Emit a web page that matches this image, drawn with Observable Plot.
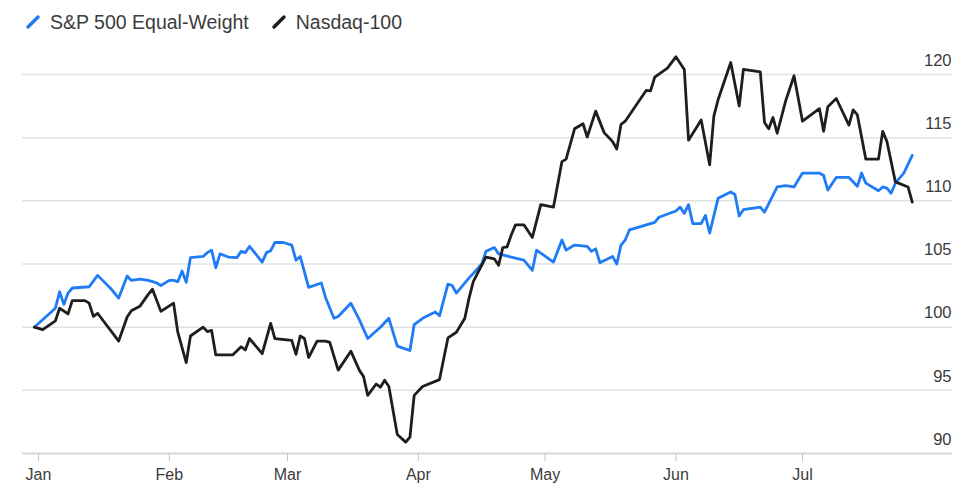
<!DOCTYPE html>
<html>
<head>
<meta charset="utf-8">
<script src="https://cdn.jsdelivr.net/npm/d3@7"></script>
<script src="https://cdn.jsdelivr.net/npm/@observablehq/plot@0.6"></script>
<style>
  body { margin: 0; background: #fff; font-family: "Liberation Sans", Arial, sans-serif; }
  #legend { height: 44px; display: flex; align-items: center; padding-left: 25px; font-size: 19.5px; color: #3c3c3c; }
  #legend .item { display: flex; align-items: center; margin-right: 22px; }
  #legend svg { margin-right: 9px; }
</style>
</head>
<body>
<div id="legend"></div>
<div id="chart"></div>
<script>
// Both indexes rebased to 100 at the end of the previous year.
const SERIES = ["S&P 500 Equal-Weight", "Nasdaq-100"];
const COLORS = ["#1f7cf6", "#1e1e1e"];

const equalWeightDates = [
  "2022-12-31", "2023-01-05", "2023-01-06", "2023-01-07", "2023-01-08", "2023-01-09", "2023-01-13", "2023-01-15",
  "2023-01-18", "2023-01-20", "2023-01-22", "2023-01-23", "2023-01-25", "2023-01-27", "2023-01-29", "2023-01-30",
  "2023-02-01", "2023-02-02", "2023-02-03", "2023-02-04", "2023-02-05", "2023-02-06", "2023-02-09", "2023-02-10",
  "2023-02-11", "2023-02-12", "2023-02-13", "2023-02-15", "2023-02-17", "2023-02-18", "2023-02-19", "2023-02-20",
  "2023-02-23", "2023-02-24", "2023-02-25", "2023-02-26", "2023-02-28",
  "2023-03-02", "2023-03-03", "2023-03-04", "2023-03-06", "2023-03-09", "2023-03-10", "2023-03-12", "2023-03-13",
  "2023-03-16", "2023-03-18", "2023-03-20", "2023-03-23", "2023-03-25", "2023-03-27", "2023-03-30", "2023-03-31",
  "2023-04-02", "2023-04-05", "2023-04-06", "2023-04-08", "2023-04-09", "2023-04-10", "2023-04-13", "2023-04-14",
  "2023-04-16", "2023-04-17", "2023-04-19", "2023-04-20", "2023-04-23", "2023-04-26", "2023-04-28", "2023-04-29",
  "2023-05-03", "2023-05-05", "2023-05-06", "2023-05-08", "2023-05-11", "2023-05-12", "2023-05-13", "2023-05-14",
  "2023-05-17", "2023-05-18", "2023-05-19", "2023-05-20", "2023-05-21", "2023-05-25", "2023-05-27", "2023-05-28",
  "2023-06-01", "2023-06-02", "2023-06-03", "2023-06-04", "2023-06-05", "2023-06-07", "2023-06-08", "2023-06-09",
  "2023-06-11", "2023-06-14", "2023-06-15", "2023-06-16", "2023-06-17", "2023-06-21", "2023-06-22", "2023-06-25",
  "2023-06-27", "2023-06-29",
  "2023-07-01", "2023-07-05", "2023-07-06", "2023-07-07", "2023-07-09", "2023-07-12", "2023-07-14", "2023-07-15",
  "2023-07-16", "2023-07-19", "2023-07-20", "2023-07-21", "2023-07-22", "2023-07-23", "2023-07-25", "2023-07-27"
];
const equalWeightValues = [
  100.0, 101.5, 102.8, 101.8, 102.7, 103.1, 103.2, 104.1,
  103.1, 102.3, 104.05, 103.7, 103.8, 103.7, 103.5, 103.3,
  103.7, 103.7, 103.6, 104.45, 103.55, 105.5, 105.6, 105.9,
  106.1, 104.7, 105.8, 105.55, 105.5, 106.0, 105.9, 106.4,
  105.15, 105.9, 106.05, 106.7, 106.7,
  106.5, 105.3, 105.6, 103.15, 103.5, 102.35, 100.7, 100.85,
  101.9, 100.6, 99.1, 100.0, 100.7, 98.5, 98.15, 100.2,
  100.7, 101.2, 100.9, 103.4, 103.3, 102.7, 103.9, 104.25,
  105.0, 106.0, 106.3, 105.8, 105.55, 105.3, 104.5, 106.1,
  105.15, 106.9, 106.1, 106.5, 106.4, 106.0, 106.2, 105.1,
  105.6, 105.0, 106.5, 106.9, 107.7, 108.1, 108.3, 108.7,
  109.2, 109.5, 109.0, 109.7, 108.2, 108.2, 108.85, 107.45,
  110.2, 110.7, 110.5, 108.8, 109.3, 109.5, 109.1, 111.1,
  111.2, 111.1,
  112.2, 112.2, 112.0, 110.85, 111.85, 111.85, 111.15, 112.2,
  111.4, 110.8, 111.1, 111.0, 110.6, 111.4, 112.2, 113.6
];

const nasdaqDates = [
  "2022-12-31", "2023-01-02", "2023-01-05", "2023-01-06", "2023-01-08", "2023-01-09", "2023-01-12", "2023-01-13",
  "2023-01-14", "2023-01-15", "2023-01-20", "2023-01-22", "2023-01-23", "2023-01-25", "2023-01-27", "2023-01-28",
  "2023-01-30",
  "2023-02-02", "2023-02-03", "2023-02-05", "2023-02-06", "2023-02-09", "2023-02-10", "2023-02-11", "2023-02-12",
  "2023-02-16", "2023-02-18", "2023-02-19", "2023-02-20", "2023-02-23", "2023-02-25", "2023-02-26",
  "2023-03-02", "2023-03-03", "2023-03-04", "2023-03-05", "2023-03-06", "2023-03-08", "2023-03-10", "2023-03-11",
  "2023-03-13", "2023-03-16", "2023-03-18", "2023-03-19", "2023-03-20", "2023-03-22", "2023-03-23", "2023-03-24",
  "2023-03-25", "2023-03-27", "2023-03-29", "2023-03-30", "2023-03-31",
  "2023-04-02", "2023-04-06", "2023-04-08", "2023-04-10", "2023-04-12", "2023-04-13", "2023-04-14", "2023-04-17",
  "2023-04-19", "2023-04-20", "2023-04-21", "2023-04-22", "2023-04-23", "2023-04-24", "2023-04-26", "2023-04-28",
  "2023-04-30",
  "2023-05-03", "2023-05-05", "2023-05-06", "2023-05-08", "2023-05-10", "2023-05-11", "2023-05-13", "2023-05-15",
  "2023-05-17", "2023-05-18", "2023-05-19", "2023-05-20", "2023-05-25", "2023-05-26", "2023-05-27", "2023-05-30",
  "2023-06-01", "2023-06-03", "2023-06-04", "2023-06-07", "2023-06-09", "2023-06-10", "2023-06-11", "2023-06-14",
  "2023-06-16", "2023-06-17", "2023-06-21", "2023-06-22", "2023-06-23", "2023-06-24", "2023-06-25", "2023-06-27",
  "2023-06-29",
  "2023-07-01", "2023-07-05", "2023-07-06", "2023-07-07", "2023-07-09", "2023-07-12", "2023-07-13", "2023-07-14",
  "2023-07-16", "2023-07-19", "2023-07-20", "2023-07-21", "2023-07-23", "2023-07-26", "2023-07-27"
];
const nasdaqValues = [
  100.0, 99.8, 100.5, 101.5, 101.05, 102.1, 102.1, 101.9,
  100.85, 101.1, 98.9, 100.8, 101.3, 101.65, 102.6, 103.0,
  101.25,
  101.9, 99.6, 97.2, 99.3, 100.0, 99.65, 99.75, 97.8,
  97.8, 98.45, 98.2, 99.1, 97.9, 100.3, 99.1,
  98.95, 97.85, 99.3, 99.1, 97.6, 98.9, 98.9, 98.8,
  96.6, 98.1, 96.6, 96.1, 94.6, 95.5, 95.25, 95.8,
  95.3, 91.5, 90.9, 91.3, 94.6,
  95.3, 95.85, 99.15, 99.6, 100.7, 102.3, 103.6, 105.55,
  105.4, 104.9, 106.3, 106.35, 107.3, 108.1, 108.1, 107.1,
  109.7,
  109.5, 113.1, 113.3, 115.7, 116.1, 115.05, 117.1, 115.4,
  114.7, 114.1, 116.05, 116.3, 118.75, 118.7, 119.8, 120.5,
  121.4, 120.4, 114.8, 116.4, 112.85, 116.7, 118.0, 120.95,
  117.5, 120.4, 120.2, 116.2, 115.7, 116.6, 115.35, 117.9,
  119.9,
  116.3, 117.3, 115.5, 117.45, 118.1, 116.0, 117.2, 116.8,
  113.3, 113.3, 115.5, 114.7, 111.5, 111.1, 109.9
];

const yTicks = [90, 95, 100, 105, 110, 115, 120];
const monthTicks = ["2023-01-01", "2023-02-01", "2023-03-01", "2023-04-01", "2023-05-01", "2023-06-01", "2023-07-01"];

const toRows = (dates, values, name) =>
  dates.map((d, i) => ({ date: new Date(d), value: values[i], series: name }));

const rows = [
  ...toRows(equalWeightDates, equalWeightValues, SERIES[0]),
  ...toRows(nasdaqDates, nasdaqValues, SERIES[1])
];

// legend: short slanted swatch + name
const legend = document.getElementById("legend");
SERIES.forEach((name, i) => {
  const item = document.createElement("div");
  item.className = "item";
  item.innerHTML =
    `<svg width="16" height="16"><line x1="3" y1="13" x2="13" y2="3" stroke="${COLORS[i]}" stroke-width="3.5" stroke-linecap="round"/></svg>` +
    `<span></span>`;
  item.querySelector("span").textContent = name;
  legend.appendChild(item);
});

const plot = Plot.plot({
  width: 975,
  height: 456,
  marginTop: 30,
  marginBottom: 47,
  marginLeft: 22,
  marginRight: 23,
  style: { fontFamily: "Liberation Sans, Arial, sans-serif", color: "#3c3c3c" },
  x: { type: "utc", domain: [new Date(monthTicks[0]), new Date(monthTicks[6])], range: [38, 802] },
  y: { domain: [90, 120] },
  color: { domain: SERIES, range: COLORS },
  marks: [
    Plot.ruleY(yTicks.slice(1), { stroke: "#e2e2e2", strokeWidth: 1.5 }),
    Plot.ruleY([yTicks[0]], { stroke: "#d6d6d6", strokeWidth: 2 }),
    Plot.axisY(yTicks, {
      anchor: "right", tickSize: 0, tickPadding: 0, textAnchor: "end",
      dx: -1, dy: -14, fontSize: 16.5, label: null
    }),
    Plot.axisX(monthTicks.map((d) => new Date(d)), {
      tickFormat: d3.utcFormat("%b"), tickSize: 8, tickPadding: 7,
      fontSize: 16, stroke: "#c4c4c4", label: null
    }),
    Plot.line(rows, { x: "date", y: "value", z: "series", stroke: "series", strokeWidth: 2.8 })
  ]
});

document.getElementById("chart").appendChild(plot);
</script>
</body>
</html>
